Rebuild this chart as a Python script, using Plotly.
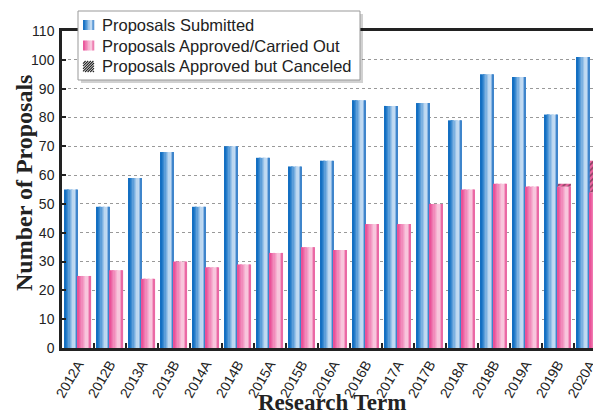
import plotly.graph_objects as go

terms = ["2012A", "2012B", "2013A", "2013B", "2014A", "2014B", "2015A", "2015B", "2016A",
         "2016B", "2017A", "2017B", "2018A", "2018B", "2019A", "2019B", "2020A"]
submitted = [55, 49, 59, 68, 49, 70, 66, 63, 65, 86, 84, 85, 79, 95, 94, 81, 101]
approved = [25, 27, 24, 30, 28, 29, 33, 35, 34, 43, 43, 50, 55, 57, 56, 56, 54]
canceled = [0, 0, 0, 0, 0, 0, 0, 0, 0, 0, 0, 0, 0, 0, 0, 1, 11]
y_ticks = [0, 10, 20, 30, 40, 50, 60, 70, 80, 90, 100, 110]
legend_labels = ["Proposals Submitted", "Proposals Approved/Carried Out",
                 "Proposals Approved but Canceled"]

xs = list(range(len(terms)))

BLUE_KEYS = [(0.0, (12, 105, 190)), (0.2, (45, 130, 205)), (0.72, (210, 228, 246)),
             (0.9, (110, 165, 220)), (1.0, (15, 100, 185))]
PINK_KEYS = [(0.0, (232, 72, 146)), (0.2, (238, 110, 170)), (0.72, (250, 210, 228)),
             (0.9, (240, 140, 185)), (1.0, (228, 70, 145))]
PINK_HATCH_BG = "rgb(236,100,160)"


def interp(keys, t):
    for (t0, c0), (t1, c1) in zip(keys[:-1], keys[1:]):
        if t0 <= t <= t1:
            f = (t - t0) / (t1 - t0) if t1 > t0 else 0
            return "rgb(%d,%d,%d)" % tuple(round(a + (b - a) * f) for a, b in zip(c0, c1))
    return "rgb(%d,%d,%d)" % keys[-1][1]


# figure geometry (page body margin removed via post_script)
W, H = 593, 415
ML, MR, MT, MB = 62, 0, 31, 67
PW, PH = W - ML - MR, H - MT - MB


def px(fx):
    return (fx - ML) / PW


def py(fy):
    return (MT + PH - fy) / PH


N = 10
BW = 0.41
fig = go.Figure()


def add_strips(values, start, keys):
    sw = BW / N
    for k in range(N):
        t = (k + 0.5) / N
        fig.add_trace(go.Bar(
            x=xs, y=values, offset=start + k * sw, width=sw,
            marker=dict(color=interp(keys, t), line=dict(width=0)),
            showlegend=False, hoverinfo="skip"))


add_strips(submitted, -BW, BLUE_KEYS)
add_strips(approved, 0.0, PINK_KEYS)

# canceled (hatched) stacked on approved
fig.add_trace(go.Bar(
    x=xs, y=canceled, base=approved, offset=0.0, width=BW,
    marker=dict(color=PINK_HATCH_BG, line=dict(width=0),
                pattern=dict(shape="/", fgcolor="#222", bgcolor=PINK_HATCH_BG,
                             size=4, solidity=0.4)),
    showlegend=False, hoverinfo="skip"))

# ---- manual legend (paper-referenced shapes + annotations) ----
shapes = []
bx0, bx1, by0, by1 = 78, 360, 11, 80
shapes.append(dict(type="rect", xref="paper", yref="paper",
                   x0=px(bx0 + 3), x1=px(bx1 + 3), y0=py(by1 + 3), y1=py(by0 + 3),
                   fillcolor="rgba(0,0,0,0.18)", line=dict(width=0), layer="above"))
shapes.append(dict(type="rect", xref="paper", yref="paper",
                   x0=px(bx0), x1=px(bx1), y0=py(by1), y1=py(by0),
                   fillcolor="white", line=dict(color="#999", width=1), layer="above"))

sw_x0, sw_x1 = 83, 94
row_centers = [25, 45.5, 66]
sw_h = 10
for i, keys in enumerate([BLUE_KEYS, PINK_KEYS]):
    yc = row_centers[i]
    ns = 6
    for k in range(ns):
        xa = sw_x0 + (sw_x1 - sw_x0) * k / ns
        xb = sw_x0 + (sw_x1 - sw_x0) * (k + 1) / ns
        shapes.append(dict(type="rect", xref="paper", yref="paper",
                           x0=px(xa), x1=px(xb + 0.3), y0=py(yc + sw_h / 2), y1=py(yc - sw_h / 2),
                           fillcolor=interp(keys, (k + 0.5) / ns), line=dict(width=0),
                           layer="above"))
# hatched swatch
yc = row_centers[2]
hx0, hy0, s = sw_x0, yc - sw_h / 2, sw_x1 - sw_x0
d = 2.6
c = hx0 + hy0 + d
while c < hx0 + hy0 + 2 * s:
    xa = max(hx0, c - (hy0 + s))
    xb = min(hx0 + s, c - hy0)
    if xb > xa:
        shapes.append(dict(type="line", xref="paper", yref="paper",
                           x0=px(xa), y0=py(c - xa), x1=px(xb), y1=py(c - xb),
                           line=dict(color="#222", width=1.1), layer="above"))
    c += d

annotations = []
for lbl, yc in zip(legend_labels, row_centers):
    annotations.append(dict(text=lbl, xref="paper", yref="paper", x=px(100), y=py(yc),
                            xanchor="left", yanchor="middle", showarrow=False,
                            font=dict(family="Liberation Sans, Arial, sans-serif",
                                      size=16.5, color="#222")))

# axis titles
annotations.append(dict(text="<b>Research Term</b>", xref="paper", yref="paper",
                        x=px(332), y=py(402), xanchor="center", yanchor="middle",
                        showarrow=False,
                        font=dict(family="Liberation Serif, Times New Roman, serif",
                                  size=23, color="#222")))
annotations.append(dict(text="<b>Number of Proposals</b>", xref="paper", yref="paper",
                        x=px(24), y=py(183), xanchor="center", yanchor="middle",
                        textangle=-90, showarrow=False,
                        font=dict(family="Liberation Serif, Times New Roman, serif",
                                  size=24, color="#222")))

fig.update_layout(
    width=W, height=H, autosize=False,
    margin=dict(l=ML, r=MR, t=MT, b=MB, autoexpand=False),
    paper_bgcolor="white", plot_bgcolor="white",
    barmode="overlay", showlegend=False,
    font=dict(family="Liberation Sans, Arial, sans-serif", size=14, color="#222"),
    shapes=shapes, annotations=annotations,
    xaxis=dict(range=[-0.5, 16.1], tickmode="array", tickvals=xs, ticktext=terms,
               tickangle=-60, ticks="", showgrid=False, zeroline=False,
               showline=True, linewidth=2.5, linecolor="#222", mirror=True,
               automargin=False, ticklabeloverflow="allow",
               tickfont=dict(size=14, color="#222"),
               minor=dict(tickmode="array", tickvals=[i + 0.5 for i in xs[:-1]],
                          ticks="inside", ticklen=5, tickwidth=2, tickcolor="#222",
                          showgrid=False)),
    yaxis=dict(range=[0, 110], tickmode="array", tickvals=y_ticks,
               ticks="inside", ticklen=4, tickwidth=1.5, tickcolor="#222",
               showgrid=True, gridcolor="#999", griddash="dot", gridwidth=1,
               zeroline=False, showline=True, linewidth=2.5, linecolor="#222",
               automargin=False, ticklabelstandoff=2,
               tickfont=dict(size=14, color="#222")),
)

fig.write_html(
    "out.html",
    config={"displayModeBar": False},
    post_script="document.body.style.margin='0';"
                "document.documentElement.style.overflow='hidden';"
                "document.body.style.overflow='hidden';")
